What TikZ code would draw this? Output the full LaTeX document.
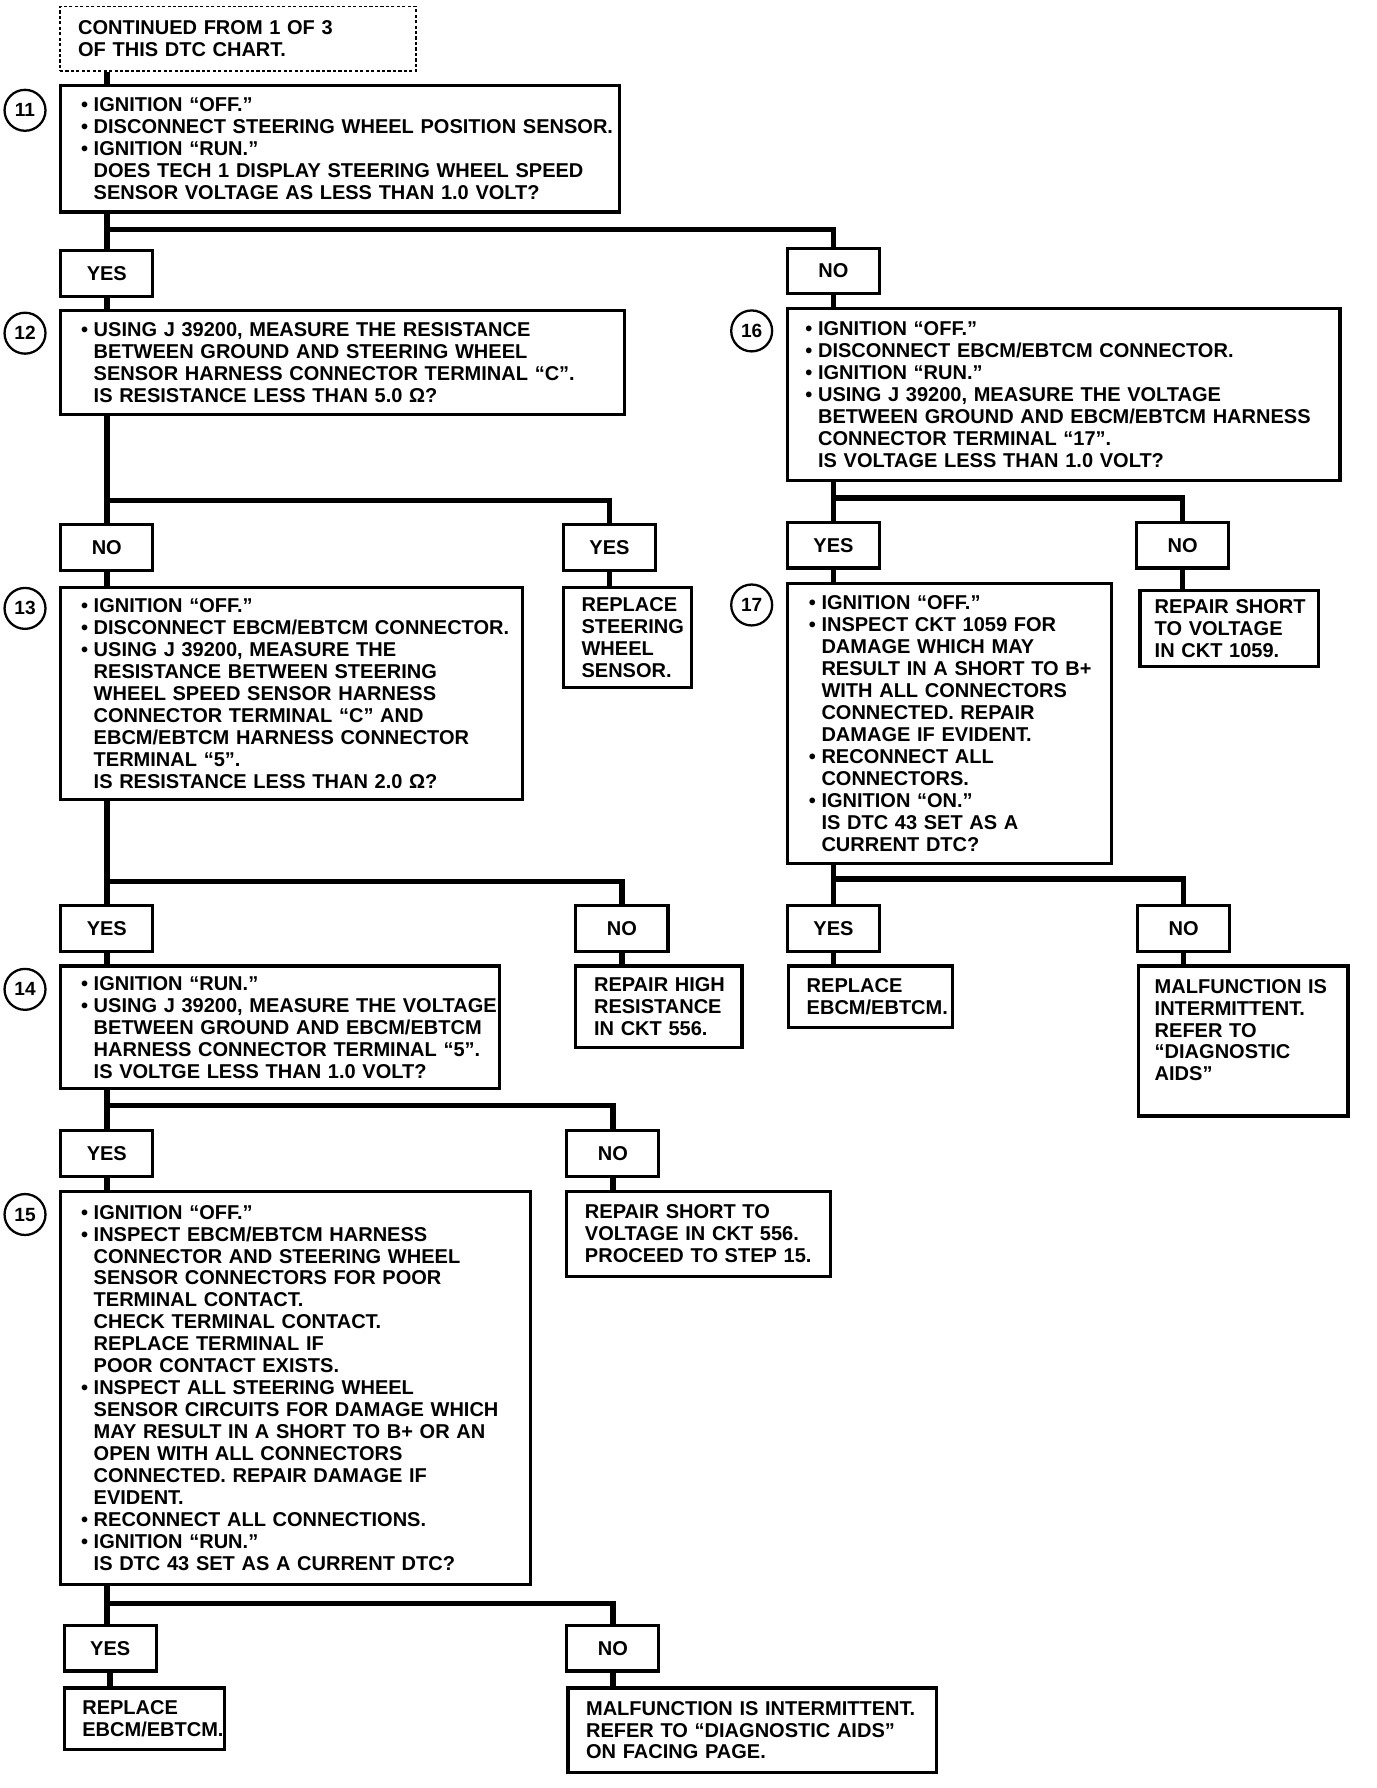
\documentclass[tikz,border=0pt]{standalone}
\usepackage{fontspec}
\setmainfont{Liberation Sans}
\usetikzlibrary{calc}

\newcommand{\chartfont}{\bfseries\fontsize{8.8pt}{9.65pt}\selectfont}
\newcommand{\bul}{\leavevmode\llap{\textbullet\hspace{2.5pt}}}

\tikzset{
  chartbox/.style={draw, line width=1.4pt, anchor=north west, inner xsep=0pt, inner ysep=2pt, align=left, font=\chartfont},
  textpad/.style={execute at begin node={\leftskip=#1\rightskip=0pt plus 1fil minus 30pt}},
  stepbox/.style={chartbox, textpad=14.5pt},
  endbox/.style={chartbox, textpad=8pt},
  ansbox/.style={draw, line width=1.4pt, anchor=north west, minimum width=40.5pt, minimum height=20pt, inner sep=0pt, font=\chartfont},
  stepnum/.style={draw, circle, line width=1pt, minimum size=18pt, inner sep=0pt, font=\bfseries\fontsize{8.4pt}{9pt}\selectfont},
  link/.style={line width=2.4pt},
}

\begin{document}
\begin{tikzpicture}[x=0.5pt, y=-0.5pt]
  \useasboundingbox (0,0) rectangle (1210,1572.3);

  % Continued from previous page
  \node[endbox, densely dotted, line width=0.7pt, text width=156.5pt, minimum height=28.5pt] (cont) at (52,5) {CONTINUED FROM 1 OF 3\\OF THIS DTC CHART.};

  % Step 11
  \node[stepnum] (s11) at (22,97) {11};
  \node[stepbox, text width=245.5pt, minimum height=55.5pt] (b11) at (52,74) {\bul IGNITION “OFF.”\\\bul DISCONNECT STEERING WHEEL POSITION SENSOR.\\\bul IGNITION “RUN.”\\DOES TECH 1 DISPLAY STEERING WHEEL SPEED\\SENSOR VOLTAGE AS LESS THAN 1.0 VOLT?};
  \node[ansbox] (y11) at (52,219) {YES};
  \node[ansbox] (n11) at (691,217) {NO};

  % Step 12
  \node[stepnum] (s12) at (22,293) {12};
  \node[stepbox, text width=248pt, minimum height=45.5pt] (b12) at (52,272) {\bul USING J 39200, MEASURE THE RESISTANCE\\BETWEEN GROUND AND STEERING WHEEL\\SENSOR HARNESS CONNECTOR TERMINAL “C”.\\IS RESISTANCE LESS THAN 5.0 Ω?};
  \node[ansbox] (n12) at (52,460) {NO};
  \node[ansbox] (y12) at (494,460) {YES};
  \node[endbox, text width=56.5pt, minimum height=44pt] (r12) at (494,515) {REPLACE\\STEERING\\WHEEL\\SENSOR.};

  % Step 13
  \node[stepnum] (s13) at (22,535) {13};
  \node[stepbox, text width=203pt, minimum height=93.5pt] (b13) at (52,515) {\bul IGNITION “OFF.”\\\bul DISCONNECT EBCM/EBTCM CONNECTOR.\\\bul USING J 39200, MEASURE THE\\RESISTANCE BETWEEN STEERING\\WHEEL SPEED SENSOR HARNESS\\CONNECTOR TERMINAL “C” AND\\EBCM/EBTCM HARNESS CONNECTOR\\TERMINAL “5”.\\IS RESISTANCE LESS THAN 2.0 Ω?};
  \node[ansbox] (y13) at (52,795) {YES};
  \node[ansbox] (n13) at (505,795) {NO};
  \node[endbox, text width=73pt, minimum height=36pt] (r13) at (505,848) {REPAIR HIGH\\RESISTANCE\\IN CKT 556.};

  % Step 14
  \node[stepnum] (s14) at (22,870) {14};
  \node[stepbox, text width=193pt, minimum height=54pt] (b14) at (52,848) {\bul IGNITION “RUN.”\\\bul USING J 39200, MEASURE THE VOLTAGE\\BETWEEN GROUND AND EBCM/EBTCM\\HARNESS CONNECTOR TERMINAL “5”.\\IS VOLTGE LESS THAN 1.0 VOLT?};
  \node[ansbox] (y14) at (52,993) {YES};
  \node[ansbox] (n14) at (497,993) {NO};
  \node[endbox, text width=116pt, minimum height=37.5pt] (r14) at (497,1046) {REPAIR SHORT TO\\VOLTAGE IN CKT 556.\\PROCEED TO STEP 15.};

  % Step 15
  \node[stepnum] (s15) at (22,1068) {15};
  \node[stepbox, text width=206.5pt, minimum height=173pt] (b15) at (52,1046) {\bul IGNITION “OFF.”\\\bul INSPECT EBCM/EBTCM HARNESS\\CONNECTOR AND STEERING WHEEL\\SENSOR CONNECTORS FOR POOR\\TERMINAL CONTACT.\\CHECK TERMINAL CONTACT.\\REPLACE TERMINAL IF\\POOR CONTACT EXISTS.\\\bul INSPECT ALL STEERING WHEEL\\SENSOR CIRCUITS FOR DAMAGE WHICH\\MAY RESULT IN A SHORT TO B+ OR AN\\OPEN WITH ALL CONNECTORS\\CONNECTED. REPAIR DAMAGE IF\\EVIDENT.\\\bul RECONNECT ALL CONNECTIONS.\\\bul IGNITION “RUN.”\\IS DTC 43 SET AS A CURRENT DTC?};
  \node[ansbox] (y15) at (55,1428) {YES};
  \node[ansbox] (n15) at (497,1428) {NO};
  \node[endbox, text width=70.5pt, minimum height=27pt] (r15y) at (55,1483) {REPLACE\\EBCM/EBTCM.};
  \node[endbox, text width=162pt, minimum height=37pt] (r15n) at (498,1483) {MALFUNCTION IS INTERMITTENT.\\REFER TO “DIAGNOSTIC AIDS”\\ON FACING PAGE.};

  % Step 16
  \node[stepnum] (s16) at (661,291) {16};
  \node[chartbox, textpad=13.5pt, text width=243pt, minimum height=75.5pt] (b16) at (691,270) {\bul IGNITION “OFF.”\\\bul DISCONNECT EBCM/EBTCM CONNECTOR.\\\bul IGNITION “RUN.”\\\bul USING J 39200, MEASURE THE VOLTAGE\\BETWEEN GROUND AND EBCM/EBTCM HARNESS\\CONNECTOR TERMINAL “17”.\\IS VOLTAGE LESS THAN 1.0 VOLT?};
  \node[ansbox] (y16) at (691,458) {YES};
  \node[ansbox] (n16) at (998,458) {NO};
  \node[chartbox, textpad=6.5pt, text width=78.5pt, minimum height=33.5pt] (r16) at (1001,518) {REPAIR SHORT\\TO VOLTAGE\\IN CKT 1059.};

  % Step 17
  \node[stepnum] (s17) at (661,532) {17};
  \node[chartbox, textpad=15pt, text width=142.5pt, minimum height=123pt] (b17) at (691,512) {\bul IGNITION “OFF.”\\\bul INSPECT CKT 1059 FOR\\DAMAGE WHICH MAY\\RESULT IN A SHORT TO B+\\WITH ALL CONNECTORS\\CONNECTED. REPAIR\\DAMAGE IF EVIDENT.\\\bul RECONNECT ALL\\CONNECTORS.\\\bul IGNITION “ON.”\\IS DTC 43 SET AS A\\CURRENT DTC?};
  \node[ansbox] (y17) at (691,795) {YES};
  \node[ansbox] (n17) at (999,795) {NO};
  \node[endbox, text width=72pt, minimum height=27pt] (r17y) at (692,848) {REPLACE\\EBCM/EBTCM.};
  \node[chartbox, textpad=7pt, text width=92pt, minimum height=66pt] (r17n) at (1000,848) {MALFUNCTION IS\\INTERMITTENT.\\REFER TO\\“DIAGNOSTIC\\AIDS”\\\mbox{}};

  % Branch points
  \coordinate (j11) at ($(y11.north)+(0,-17)$);
  \coordinate (j12) at ($(n12.north)+(0,-20)$);
  \coordinate (j13) at ($(y13.north)+(0,-20)$);
  \coordinate (j14) at ($(y14.north)+(0,-21)$);
  \coordinate (j15) at ($(y15.north)+(0,-18)$);
  \coordinate (j16) at ($(y16.north)+(0,-20)$);
  \coordinate (j17) at ($(y17.north)+(0,-22)$);

  % Connectors
  \draw[link] (cont.south -| y11) -- (b11.north -| y11);
  \draw[link] (b11.south -| y11) -- (y11.north);
  \draw[link] (j11) -| (n11.north);
  \draw[link] (y11.south) -- (y11.south |- b12.north);
  \draw[link] (n11.south) -- (n11.south |- b16.north);

  \draw[link] (b12.south -| n12) -- (n12.north);
  \draw[link] (j12) -| (y12.north);
  \draw[link] (n12.south) -- (n12.south |- b13.north);
  \draw[link] (y12.south) -- (y12.south |- r12.north);

  \draw[link] (b13.south -| y13) -- (y13.north);
  \draw[link] (j13) -| (n13.north);
  \draw[link] (y13.south) -- (y13.south |- b14.north);
  \draw[link] (n13.south) -- (n13.south |- r13.north);

  \draw[link] (b14.south -| y14) -- (y14.north);
  \draw[link] (j14) -| (n14.north);
  \draw[link] (y14.south) -- (y14.south |- b15.north);
  \draw[link] (n14.south) -- (n14.south |- r14.north);

  \draw[link] (b15.south -| y14) -- (y15.north -| y14);
  \draw[link] (j15 -| y14) -| (n15.north);
  \draw[link] (y15.south) -- (y15.south |- r15y.north);
  \draw[link] (n15.south) -- (n15.south |- r15n.north);

  \draw[link] (b16.south -| y16) -- (y16.north);
  \draw[link] (j16) -| (n16.north);
  \draw[link] (y16.south) -- (y16.south |- b17.north);
  \draw[link] (n16.south) -- (n16.south |- r16.north);

  \draw[link] (b17.south -| y17) -- (y17.north);
  \draw[link] (j17) -| (n17.north);
  \draw[link] (y17.south) -- (y17.south |- r17y.north);
  \draw[link] (n17.south) -- (n17.south |- r17n.north);
\end{tikzpicture}
\end{document}
